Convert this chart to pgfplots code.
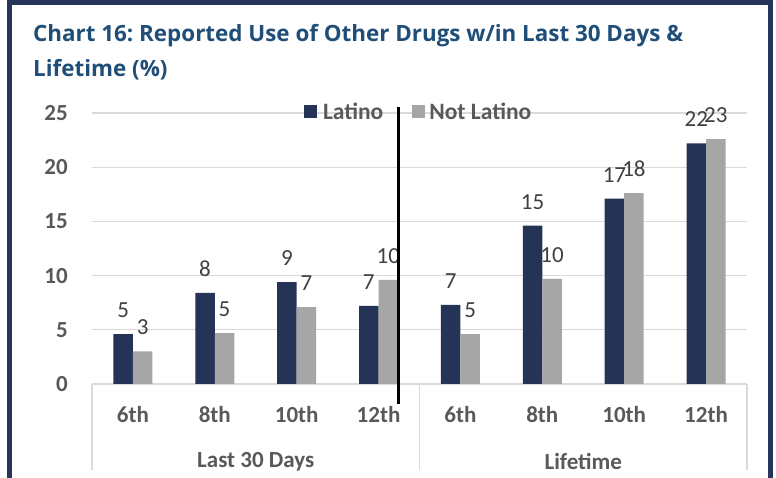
\documentclass[border=0pt]{standalone}
\usepackage{fontspec}
\setmainfont{Carlito}
\newfontfamily\titlefont{Open Sans}
\usepackage{pgfplots}
\pgfplotsset{compat=1.18}
\frenchspacing

\definecolor{navybar}{HTML}{253356}
\definecolor{greybar}{HTML}{A6A6A6}
\definecolor{framenavy}{HTML}{263559}
\definecolor{titleblue}{HTML}{1F4E79}
\definecolor{gridgray}{HTML}{D9D9D9}
\definecolor{labelgray}{HTML}{595959}
\definecolor{valgray}{HTML}{404040}

% Latino / Not Latino, last 30 days (6th--12th) then lifetime (6th--12th)
\pgfplotstableread{
x latino notlatino
0 4.6  3.0
1 8.4  4.7
2 9.4  7.1
3 7.2  9.6
4 7.3  4.6
5 14.6 9.7
6 17.1 17.6
7 22.2 22.6
}\drugdata

\begin{document}
\begin{tikzpicture}[x=1pt,y=1pt]
\clip (0,0) rectangle (776,478);
\fill[white] (0,0) rectangle (776,478);

% title
\node[anchor=base west, inner sep=0pt, text=titleblue,
      font=\titlefont\bfseries\fontsize{22.4}{28}\selectfont] at (33,436)
  {Chart 16: Reported Use of Other Drugs w/in Last 30 Days \&};
\node[anchor=base west, inner sep=0pt, text=titleblue,
      font=\titlefont\bfseries\fontsize{22.4}{28}\selectfont] at (33,401)
  {Lifetime (\%)};

\begin{axis}[
  at={(92pt,94pt)}, anchor=south west,
  scale only axis, width=655pt, height=271pt,
  xmin=-0.5, xmax=7.5, ymin=0, ymax=25,
  ybar=0pt, bar width=19.5pt,
  axis line style={draw=none},
  major tick length=0pt,
  ytick={0,5,...,25},
  ymajorgrids, grid style={draw=gridgray, line width=1.2pt},
  xtick={0,...,7},
  xticklabels={6th,8th,10th,12th,6th,8th,10th,12th},
  /pgf/number format/assume math mode=true,
  tick label style={font=\fontsize{23}{27}\selectfont\bfseries, text=labelgray},
  yticklabel style={anchor=east, inner sep=0pt, xshift=-24pt},
  xticklabel style={anchor=center, inner sep=0pt, yshift=-31pt},
  nodes near coords={\pgfmathprintnumber[fixed,precision=0,assume math mode=true]{\pgfplotspointmeta}},
  every node near coord/.append style={anchor=center, yshift=24pt,
      font=\fontsize{23}{27}\selectfont, text=valgray, inner sep=0pt},
  legend columns=2,
  legend style={at={(0.3237,1.0037)}, anchor=west, draw=none, fill=none,
      inner sep=0pt, outer sep=0pt,
      font=\fontsize{23.5}{27}\selectfont\bfseries, text=labelgray,
      /tikz/every even column/.append style={column sep=27pt}},
  legend image code/.code={\fill[#1] (0pt,-6.5pt) rectangle (13pt,6.5pt);},
  clip=false,
]
\addplot[fill=navybar, draw=none] table[x=x, y=latino] {\drugdata};
\addplot[fill=greybar, draw=none] table[x=x, y=notlatino] {\drugdata};
\legend{\hspace{4pt}Latino, \hspace{2pt}Not Latino}

% category separators and group labels
\foreach \sx in {-0.5,3.5,7.5}{
  \edef\tmp{\noexpand\draw[gridgray, line width=1.2pt] (axis cs:\sx,0) -- ([yshift=-86pt]axis cs:\sx,0);}\tmp
}
\node[font=\fontsize{23}{27}\selectfont\bfseries, text=labelgray, inner sep=0pt]
  at ([yshift=-78pt]axis cs:1.5,0) {Last 30 Days};
\node[font=\fontsize{23}{27}\selectfont\bfseries, text=labelgray, inner sep=0pt]
  at ([yshift=-78pt]axis cs:5.5,0) {Lifetime};
\end{axis}

% divider between the two periods
\draw[black, line width=3pt] (398.3,371) -- (398.3,74);

% outer frame
\draw[framenavy, line width=4.5pt] (9.5,-10) -- (9.5,475.5) -- (770.5,475.5) -- (770.5,-10);
\end{tikzpicture}
\end{document}
